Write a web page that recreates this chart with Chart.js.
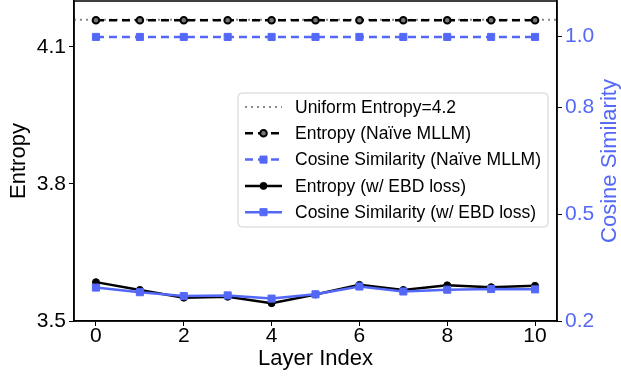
<!DOCTYPE html>
<html>
<head>
<meta charset="utf-8">
<script src="https://cdn.jsdelivr.net/npm/chart.js@4/dist/chart.umd.min.js"></script>
<style>
  html, body { margin: 0; padding: 0; background: #ffffff; }
  #wrap { width: 621px; height: 377px; position: relative; overflow: hidden; }
  #c { position: absolute; left: 0; top: -5px; }
</style>
</head>
<body>
<div id="wrap"><canvas id="c" width="621" height="382"></canvas></div>
<script>
// ---- data ----
const LAYERS = [0, 1, 2, 3, 4, 5, 6, 7, 8, 9, 10];
const UNIFORM_ENTROPY = 4.159;
const ENTROPY_NAIVE = [4.158, 4.158, 4.158, 4.158, 4.158, 4.158, 4.158, 4.158, 4.158, 4.158, 4.158];
const COSINE_NAIVE = [0.999, 0.999, 0.999, 0.999, 0.999, 0.999, 0.999, 0.999, 0.999, 0.999, 0.999];
const ENTROPY_EBD = [3.585, 3.568, 3.551, 3.553, 3.539, 3.558, 3.579, 3.568, 3.578, 3.574, 3.577];
const COSINE_EBD = [0.294, 0.281, 0.270, 0.272, 0.263, 0.275, 0.297, 0.283, 0.288, 0.290, 0.289];
const X_TICKS = [0, 2, 4, 6, 8, 10];
const LEFT_TICKS = [3.5, 3.8, 4.1];
const RIGHT_TICKS = [0.2, 0.5, 0.8, 1.0];
const LABELS = [
  'Uniform Entropy=4.2',
  'Entropy (Naïve MLLM)',
  'Cosine Similarity (Naïve MLLM)',
  'Entropy (w/ EBD loss)',
  'Cosine Similarity (w/ EBD loss)'
];
const RIGHT_TITLE = 'Cosine Similarity';

// ---- styles ----
const BLUE = '#5468f8';
const FONT = '"Liberation Sans", Arial, Helvetica, sans-serif';
const X_MIN = -0.5, X_MAX = 10.5;

const pts = (ys) => LAYERS.map((x, i) => ({ x: x, y: ys[i] }));

const datasets = [
  {
    label: LABELS[0], yAxisID: 'y',
    data: [{ x: X_MIN, y: UNIFORM_ENTROPY }, { x: X_MAX, y: UNIFORM_ENTROPY }],
    borderColor: '#8a8a8a', borderWidth: 2, borderDash: [2, 4], pointRadius: 0, order: 5
  },
  {
    label: LABELS[1], yAxisID: 'y', data: pts(ENTROPY_NAIVE),
    borderColor: '#000', borderWidth: 2.5, borderDash: [8, 5],
    pointStyle: 'circle', pointRadius: 3.3, pointBackgroundColor: '#777', pointBorderColor: '#000', pointBorderWidth: 2, order: 4
  },
  {
    label: LABELS[2], yAxisID: 'y1', data: pts(COSINE_NAIVE),
    borderColor: BLUE, borderWidth: 2.5, borderDash: [8, 5],
    pointStyle: 'rect', pointRadius: 5, pointBackgroundColor: BLUE, pointBorderColor: BLUE, pointBorderWidth: 1, order: 3
  },
  {
    label: LABELS[3], yAxisID: 'y', data: pts(ENTROPY_EBD),
    borderColor: '#000', borderWidth: 2.5,
    pointStyle: 'circle', pointRadius: 3.5, pointBackgroundColor: '#000', pointBorderColor: '#000', pointBorderWidth: 1, order: 2
  },
  {
    label: LABELS[4], yAxisID: 'y1', data: pts(COSINE_EBD),
    borderColor: BLUE, borderWidth: 2.5,
    pointStyle: 'rect', pointRadius: 5, pointBackgroundColor: BLUE, pointBorderColor: BLUE, pointBorderWidth: 1, order: 1
  }
];

const framePlugin = {
  id: 'frame',
  afterDatasetsDraw(chart) {
    const a = chart.chartArea, ctx = chart.ctx;
    ctx.save();
    ctx.strokeStyle = '#000';
    ctx.lineWidth = 1.5;
    ctx.strokeRect(a.left, a.top, a.right - a.left, a.bottom - a.top);
    ctx.restore();
  }
};

const rightTitlePlugin = {
  id: 'rightTitle',
  afterDraw(chart) {
    const ctx = chart.ctx, a = chart.chartArea;
    ctx.save();
    ctx.translate(chart.width - 11, (a.top + a.bottom) / 2);
    ctx.rotate(-Math.PI / 2);
    ctx.fillStyle = BLUE;
    ctx.font = '22px ' + FONT;
    ctx.textAlign = 'center';
    ctx.textBaseline = 'middle';
    ctx.fillText(RIGHT_TITLE, 0, 0);
    ctx.restore();
  }
};

const legendPlugin = {
  id: 'customLegend',
  afterDraw(chart) {
    const ctx = chart.ctx;
    const a = chart.chartArea;
    const bx = a.left + 164, by = a.top + 92, bw = 310, bh = 134;
    ctx.save();
    ctx.beginPath();
    if (ctx.roundRect) ctx.roundRect(bx, by, bw, bh, 4); else ctx.rect(bx, by, bw, bh);
    ctx.fillStyle = 'rgba(255,255,255,0.85)';
    ctx.fill();
    ctx.strokeStyle = '#d0d0d0';
    ctx.lineWidth = 1;
    ctx.stroke();
    const rowH = 26.3;
    chart.data.datasets.forEach((ds, i) => {
      const y = by + 14 + i * rowH;
      const x0 = bx + 7, x1 = bx + 44, xm = (x0 + x1) / 2;
      ctx.save();
      ctx.strokeStyle = ds.borderColor;
      ctx.lineWidth = ds.borderWidth;
      ctx.setLineDash(ds.borderDash || []);
      ctx.beginPath();
      ctx.moveTo(x0, y); ctx.lineTo(x1, y);
      ctx.stroke();
      ctx.setLineDash([]);
      if (ds.pointRadius > 0) {
        ctx.fillStyle = ds.pointBackgroundColor;
        ctx.strokeStyle = ds.pointBorderColor;
        ctx.lineWidth = ds.pointBorderWidth;
        ctx.beginPath();
        if (ds.pointStyle === 'rect') {
          const s = ds.pointRadius * Math.SQRT1_2;
          ctx.rect(xm - s, y - s, 2 * s, 2 * s);
        } else {
          ctx.arc(xm, y, ds.pointRadius, 0, Math.PI * 2);
        }
        ctx.fill();
        ctx.stroke();
      }
      ctx.restore();
      ctx.fillStyle = '#000';
      ctx.font = '17.5px ' + FONT;
      ctx.textBaseline = 'middle';
      ctx.textAlign = 'left';
      ctx.fillText(ds.label, bx + 57, y + 1);
    });
    ctx.restore();
  }
};

const axisCommon = {
  grid: { drawOnChartArea: false, drawTicks: true, tickLength: 5, color: '#000', tickWidth: 1 },
  border: { display: true, color: '#000', width: 1.5 }
};

new Chart(document.getElementById('c'), {
  type: 'line',
  data: { datasets: datasets },
  plugins: [framePlugin, legendPlugin, rightTitlePlugin],
  options: {
    responsive: false,
    animation: false,
    devicePixelRatio: 1,
    layout: { padding: { top: 2, left: 0, right: 0, bottom: 0 } },
    plugins: { legend: { display: false }, tooltip: { enabled: false } },
    scales: {
      x: {
        ...axisCommon,
        type: 'linear', min: X_MIN, max: X_MAX,
        afterBuildTicks: (s) => { s.ticks = X_TICKS.map(v => ({ value: v })); },
        afterFit: (s) => { s.height = 56; s.paddingLeft = 0; s.paddingRight = 0; },
        ticks: { color: '#000', font: { family: FONT, size: 21 }, padding: -2, maxRotation: 0,
                 callback: (v) => String(v) },
        title: { display: true, text: 'Layer Index', color: '#000', font: { family: FONT, size: 22 }, padding: { top: 0, bottom: 5 } }
      },
      y: {
        ...axisCommon,
        type: 'linear', position: 'left', min: 3.5, max: 4.2,
        afterBuildTicks: (s) => { s.ticks = LEFT_TICKS.map(v => ({ value: v })); },
        afterFit: (s) => { s.width = 74; s.paddingTop = 0; s.paddingBottom = 0; },
        ticks: { color: '#000', font: { family: FONT, size: 21 }, padding: 3,
                 callback: (v) => Number(v).toFixed(1) },
        title: { display: true, text: 'Entropy', color: '#000', font: { family: FONT, size: 22 }, padding: { top: 6, bottom: 0 } }
      },
      y1: {
        ...axisCommon,
        type: 'linear', position: 'right', min: 0.2, max: 1.1,
        afterBuildTicks: (s) => { s.ticks = RIGHT_TICKS.map(v => ({ value: v })); },
        afterFit: (s) => { s.width = 64; s.paddingTop = 0; s.paddingBottom = 0; },
        ticks: { color: BLUE, font: { family: FONT, size: 21 }, padding: 3,
                 callback: (v) => Number(v).toFixed(1) },
        title: { display: false }
      }
    }
  }
});
</script>
</body>
</html>
